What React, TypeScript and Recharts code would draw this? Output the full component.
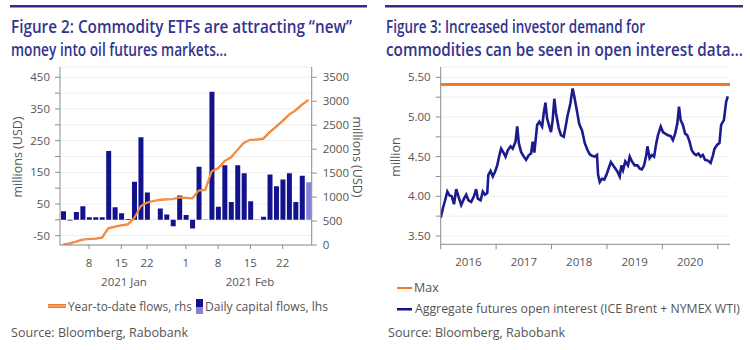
import { Bar, CartesianGrid, Cell, ComposedChart, Line, LineChart, ReferenceLine, XAxis, YAxis } from 'recharts'

// Figure 2: daily ETF flows (lhs) and year-to-date flows (rhs), business days Jan-Feb 2021
const days = [
  '01-04', '01-05', '01-06', '01-07', '01-08', '01-11', '01-12', '01-13', '01-14', '01-15',
  '01-19', '01-20', '01-21', '01-22', '01-25', '01-26', '01-27', '01-28', '01-29', '02-01',
  '02-02', '02-03', '02-04', '02-05', '02-08', '02-09', '02-10', '02-11', '02-12', '02-15',
  '02-16', '02-17', '02-18', '02-19', '02-22', '02-23', '02-24', '02-25', '02-26',
]
const dailyFlows = [
  27, -2, 25, 43, 8, 8, 8, 217, 40, 21, 3, 120, 261, 86, 0, 36, 17, -20, 77, 15,
  -27, 168, 1, 404, 41, 172, 56, 172, 147, 59, 1, 10, 143, 106, 127, 147, 56, 139, 119,
]
const ytdFlows = [
  10, 35, 70, 111, 125, 132, 153, 348, 383, 410, 431, 560, 810, 885, 918, 940, 953, 960, 995, 985,
  972, 1135, 1150, 1540, 1600, 1750, 1830, 1985, 2135, 2195, 2200, 2220, 2355, 2470, 2590, 2720, 2810, 2930, 3030,
]
const dayTicks = ['01-08', '01-15', '01-22', '02-01', '02-08', '02-15', '02-22']
const lhsTicks = [-50, 0, 50, 100, 150, 200, 250, 300, 350, 400, 450]
const rhsTicks = [0, 500, 1000, 1500, 2000, 2500, 3000, 3500]

// Figure 3: aggregate open interest, millions of contracts
const oiDates = [
  2016.0, 2016.04, 2016.08, 2016.12, 2016.16, 2016.2, 2016.24, 2016.28, 2016.32, 2016.37,
  2016.42, 2016.46, 2016.5, 2016.55, 2016.6, 2016.64, 2016.67, 2016.72, 2016.76, 2016.8,
  2016.84, 2016.86, 2016.9, 2016.94, 2016.98, 2017.02, 2017.06, 2017.09, 2017.14, 2017.17,
  2017.21, 2017.26, 2017.3, 2017.35, 2017.38, 2017.41, 2017.45, 2017.5, 2017.54, 2017.59,
  2017.63, 2017.66, 2017.69, 2017.74, 2017.78, 2017.83, 2017.86, 2017.89, 2017.92, 2017.96,
  2017.99, 2018.02, 2018.05, 2018.08, 2018.13, 2018.17, 2018.22, 2018.25, 2018.29, 2018.34,
  2018.38, 2018.41, 2018.46, 2018.5, 2018.55,
  2018.6, 2018.65, 2018.69, 2018.73, 2018.78, 2018.82, 2018.84, 2018.87, 2018.91, 2018.95,
  2018.99, 2019.03, 2019.07, 2019.11, 2019.15, 2019.19, 2019.23, 2019.26, 2019.29, 2019.33,
  2019.38, 2019.41, 2019.45, 2019.5, 2019.55, 2019.59, 2019.63, 2019.67, 2019.71, 2019.73,
  2019.77, 2019.81, 2019.85, 2019.89, 2019.92, 2019.97, 2020.01, 2020.05, 2020.1, 2020.15,
  2020.19, 2020.23, 2020.27, 2020.3, 2020.33, 2020.37, 2020.41, 2020.45, 2020.49, 2020.53,
  2020.57, 2020.61, 2020.65, 2020.69, 2020.73, 2020.77, 2020.82, 2020.87, 2020.91, 2020.94,
  2020.99, 2021.03, 2021.06, 2021.11, 2021.15, 2021.18,
]
const oiMillions = [
  3.73, 3.85, 3.95, 4.06, 4.01, 4.0, 3.9, 4.09, 4.0, 3.89,
  3.97, 4.02, 3.95, 3.93, 4.0, 4.09, 3.97, 3.95, 4.06, 4.02,
  4.04, 4.27, 4.32, 4.25, 4.31, 4.39, 4.52, 4.6, 4.54, 4.5,
  4.58, 4.63, 4.6, 4.69, 4.88, 4.67, 4.56, 4.5, 4.46, 4.52,
  4.54, 4.69, 4.55, 4.9, 4.94, 4.88, 5.05, 5.18, 4.98, 4.88,
  4.81, 4.96, 5.23, 5.05, 4.86, 4.77, 4.75, 4.86, 5.02, 5.17,
  5.36, 5.26, 5.07, 4.91, 4.83,
  4.67, 4.58, 4.53, 4.51, 4.5, 4.52, 4.27, 4.18, 4.22, 4.21,
  4.27, 4.35, 4.43, 4.39, 4.35, 4.31, 4.25, 4.39, 4.33, 4.44,
  4.39, 4.5, 4.44, 4.39, 4.39, 4.35, 4.34, 4.39, 4.52, 4.63,
  4.48, 4.52, 4.5, 4.67, 4.77, 4.88, 4.81, 4.79, 4.77, 4.76,
  4.71, 4.79, 4.92, 5.13, 4.96, 4.9, 4.79, 4.77, 4.69, 4.58,
  4.54, 4.52, 4.54, 4.5, 4.52, 4.46, 4.45, 4.42, 4.51, 4.6,
  4.65, 4.67, 4.9, 4.96, 5.19, 5.26,
]
const oiMax = 5.41
const oiTicks = [3.5, 3.75, 4.0, 4.25, 4.5, 4.75, 5.0, 5.25, 5.5]
const yearTicks = [2016, 2017, 2018, 2019, 2020, 2021]
const yearDomain: [number, number] = [2016, 2021.22]

const NAVY = '#12128c'
const LIGHT_NAVY = '#8383d2'
const ORANGE = '#f07a28'
const AXIS = '#8c8c8c'
const TEXT = '#555555'
const TITLE = '#34348e'
const FONT = "'Open Sans', 'DejaVu Sans', sans-serif"
const tickStyle = { fontSize: 11.5, fill: TEXT, fontFamily: FONT }

const flowData = days.map((d, i) => ({ d, flow: dailyFlows[i], ytd: ytdFlows[i] }))
const oiData = oiDates.map((t, i) => ({ t, v: oiMillions[i] }))

// right chart plot spans 440.7..730 px
const oiPlotWidth = 375 - 65.7 - 20
const halfYearPx = oiPlotWidth / (yearDomain[1] - yearDomain[0]) / 2

function YearTick(props: any) {
  const { x, y, payload } = props
  if (payload.value >= 2021) return null
  return (
    <text x={x + halfYearPx} y={y} dy="0.71em" textAnchor="middle" {...tickStyle}>
      {payload.value}
    </text>
  )
}

function FlowsChart() {
  return (
    <ComposedChart
      width={375}
      height={290}
      data={flowData}
      margin={{ top: 67, right: 0, bottom: 15, left: 0 }}
    >
      <CartesianGrid yAxisId="l" vertical={false} stroke="#efefef" />
      <XAxis
        dataKey="d"
        ticks={dayTicks}
        interval={0}
        height={30}
        tickSize={4}
        tickMargin={10}
        tick={tickStyle}
        stroke={AXIS}
        tickFormatter={(d: string) => String(Number(d.slice(3)))}
      />
      <YAxis
        yAxisId="l"
        domain={[-79.4, 482.5]}
        ticks={lhsTicks}
        interval={0}
        width={60}
        tickSize={5}
        tickMargin={5}
        tick={tickStyle}
        stroke={AXIS}
        allowDataOverflow
        tickFormatter={(v: number) => ((v + 50) % 100 === 0 ? String(v) : '')}
      />
      <YAxis
        yAxisId="r"
        orientation="right"
        domain={[0, 3715]}
        ticks={rhsTicks}
        interval={0}
        width={63.3}
        tickSize={5}
        tickMargin={6}
        tick={tickStyle}
        stroke={AXIS}
        allowDataOverflow
      />
      <Bar yAxisId="l" dataKey="flow" barSize={5} isAnimationActive={false}>
        {flowData.map((_, i) => (
          <Cell key={i} fill={i === flowData.length - 1 ? LIGHT_NAVY : NAVY} />
        ))}
      </Bar>
      <Line yAxisId="r" dataKey="ytd" stroke={ORANGE} strokeWidth={2.2} dot={false} isAnimationActive={false} />
      <Line yAxisId="r" dataKey="ytd" stroke="#f8b47c" strokeWidth={0.6} dot={false} isAnimationActive={false} />
    </ComposedChart>
  )
}

function OpenInterestChart() {
  return (
    <LineChart width={375} height={290} data={oiData} margin={{ top: 67, right: 20, bottom: 15.7, left: 0 }}>
      <CartesianGrid vertical={false} stroke="#efefef" />
      <XAxis
        type="number"
        dataKey="t"
        domain={yearDomain}
        ticks={yearTicks}
        interval={0}
        height={30}
        tickSize={5}
        tickMargin={9}
        tick={<YearTick />}
        stroke={AXIS}
        allowDataOverflow
      />
      <YAxis
        domain={[3.395, 5.63]}
        ticks={oiTicks}
        interval={0}
        width={65.7}
        tickSize={5}
        tickMargin={5}
        tick={tickStyle}
        stroke={AXIS}
        allowDataOverflow
        tickFormatter={(v: number) => (Math.round(v * 100) % 50 === 0 ? v.toFixed(2) : '')}
      />
      <ReferenceLine y={oiMax} stroke={ORANGE} strokeWidth={3} />
      <Line dataKey="v" stroke="#1b1b8e" strokeWidth={2.6} dot={false} isAnimationActive={false} />
    </LineChart>
  )
}

function TitleLine({ x, y, len, children }: { x: number; y: number; len: number; children: string }) {
  // narrow, tall title face: small font stretched vertically
  return (
    <text
      transform={`translate(${x},${y}) scale(1,1.17)`}
      textLength={len}
      lengthAdjust="spacingAndGlyphs"
      fontSize={15.3}
      fontWeight={600}
      fill={TITLE}
      fontFamily={FONT}
    >
      {children}
    </text>
  )
}

function Overlay() {
  const small = { fontSize: 12.5, fill: TEXT, fontFamily: FONT, lengthAdjust: 'spacingAndGlyphs' as const }
  return (
    <svg width={750} height={350} style={{ position: 'absolute', left: 0, top: 0, pointerEvents: 'none' }}>
      <rect x={10} y={5} width={357} height={2.5} fill="#2f2f8a" />
      <rect x={385} y={5} width={358} height={2.5} fill="#2f2f8a" />
      <TitleLine x={11} y={33} len={341}>Figure 2: Commodity ETFs are attracting “new”</TitleLine>
      <TitleLine x={11} y={56} len={216}>money into oil futures markets…</TitleLine>
      <TitleLine x={386} y={33} len={259}>Figure 3: Increased investor demand for</TitleLine>
      <TitleLine x={386} y={56} len={357}>commodities can be seen in open interest data…</TitleLine>

      <text transform="translate(22,157) rotate(-90)" textAnchor="middle" {...small}>millions (USD)</text>
      <text transform="translate(353,157) rotate(90)" textAnchor="middle" {...small}>millions (USD)</text>
      <text transform="translate(400,157) rotate(-90)" textAnchor="middle" {...small}>million</text>

      <text x={124} y={286} textAnchor="middle" {...tickStyle}>2021 Jan</text>
      <text x={250} y={286} textAnchor="middle" {...tickStyle}>2021 Feb</text>

      <rect x={48} y={304} width={18} height={4} fill={ORANGE} />
      <rect x={48} y={305.5} width={18} height={1} fill="#f8c9a2" />
      <text x={68} y={311} textLength={124} {...small}>Year-to-date flows, rhs</text>
      <rect x={196} y={299} width={7} height={8} fill={NAVY} />
      <rect x={196} y={307} width={7} height={7} fill={LIGHT_NAVY} />
      <text x={205} y={311} textLength={123} {...small}>Daily capital flows, lhs</text>
      <text x={11} y={337} textLength={177} {...small} fontSize={13}>Source: Bloomberg, Rabobank</text>

      <rect x={397} y={287} width={15} height={2} fill={ORANGE} />
      <text x={414} y={292} {...small}>Max</text>
      <rect x={397} y={308} width={15} height={2.5} fill={NAVY} />
      <text x={415} y={313} textLength={325} {...small}>Aggregate futures open interest (ICE Brent + NYMEX WTI)</text>
      <text x={388} y={337} textLength={177} {...small} fontSize={13}>Source: Bloomberg, Rabobank</text>
    </svg>
  )
}

export default function App() {
  return (
    <div style={{ position: 'absolute', left: 0, top: 0, width: 750, height: 350, background: '#fff', fontFamily: FONT }}>
      <div style={{ position: 'absolute', left: 0, top: 0 }}>
        <FlowsChart />
      </div>
      <div style={{ position: 'absolute', left: 375, top: 0 }}>
        <OpenInterestChart />
      </div>
      <Overlay />
    </div>
  )
}
